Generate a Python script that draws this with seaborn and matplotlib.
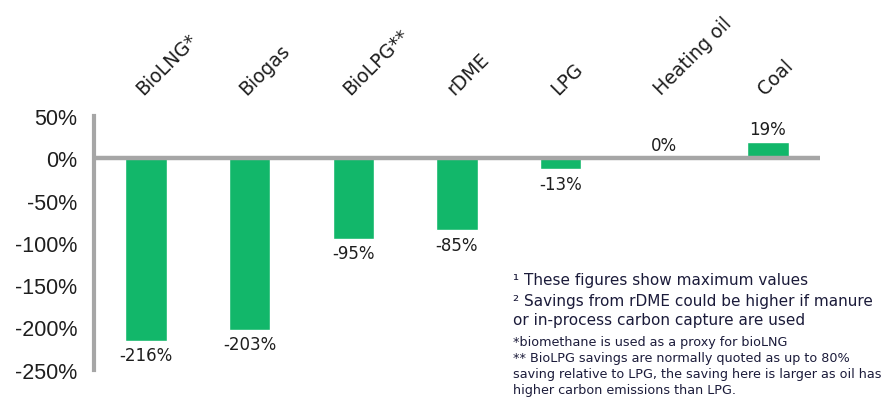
import numpy as np
import pandas as pd
import seaborn as sns
import matplotlib.pyplot as plt

# data
fuels = ["BioLNG*", "Biogas", "BioLPG**", "rDME", "LPG", "Heating oil", "Coal"]
savings = [-216, -203, -95, -85, -13, 0, 19]
y_ticks = [50, 0, -50, -100, -150, -200, -250]

notes_big = [
    "\u00b9 These figures show maximum values",
    "\u00b2 Savings from rDME could be higher if manure\nor in-process carbon capture are used",
]
notes_small = (
    "*biomethane is used as a proxy for bioLNG\n"
    "** BioLPG savings are normally quoted as up to 80%\n"
    "saving relative to LPG, the saving here is larger as oil has\n"
    "higher carbon emissions than LPG."
)


def main():
    sns.set_style("white")
    plt.rcParams["font.family"] = ["DejaVu Sans"]

    green = "#12B76A"
    grey = "#A6A6A6"
    ink = "#1E1E1E"
    navy = "#1B1B3A"

    df = pd.DataFrame({"fuel": fuels, "saving": savings})

    fig = plt.figure(figsize=(8.88, 4.06), dpi=100)
    ax = fig.add_axes([0.106, 0.087, 0.817, 0.625])

    sns.barplot(data=df, x="fuel", y="saving", color=green, saturation=1,
                width=0.4, ax=ax)

    ax.set_xlim(-0.5, 6.5)
    ax.set_ylim(-250, 50)
    ax.set_yticks(y_ticks)
    ax.set_yticklabels([f"{v}%" for v in y_ticks], fontsize=15.5, color=ink,
                       family="Liberation Sans")
    ax.tick_params(axis="y", length=0, pad=12)

    # category labels on top, rotated
    ax.xaxis.tick_top()
    ax.tick_params(axis="x", length=0, pad=13)
    for lab in ax.get_xticklabels():
        lab.set_rotation(45)
        lab.set_ha("left")
        lab.set_va("bottom")
        lab.set_rotation_mode("anchor")
        lab.set_fontsize(13.5)
        lab.set_color(ink)
    ax.set_xlabel("")
    ax.set_ylabel("")

    for side in ["top", "right", "bottom"]:
        ax.spines[side].set_visible(False)
    ax.spines["left"].set_color(grey)
    ax.spines["left"].set_linewidth(3)
    ax.axhline(0, color=grey, lw=3.2, zorder=3)

    # value labels
    for i, v in enumerate(savings):
        if v < 0:
            ax.annotate(f"{v}%", (i, v), xytext=(0, -4), textcoords="offset points",
                        ha="center", va="top", fontsize=12, color=ink)
        else:
            ax.annotate(f"{v}%", (i, v), xytext=(0, 3), textcoords="offset points",
                        ha="center", va="bottom", fontsize=12, color=ink)

    # footnotes
    fig.text(513 / 888, 1 - 280 / 406, notes_big[0], fontsize=11, color=navy,
             va="center", ha="left")
    fig.text(513 / 888, 1 - 294 / 406, notes_big[1], fontsize=11, color=navy,
             va="top", ha="left", linespacing=1.3)
    fig.text(513 / 888, 1 - 336 / 406, notes_small, fontsize=9.2, color=navy,
             va="top", ha="left", linespacing=1.3)

    fig.savefig("out.png", dpi=100)


if __name__ == "__main__":
    main()
